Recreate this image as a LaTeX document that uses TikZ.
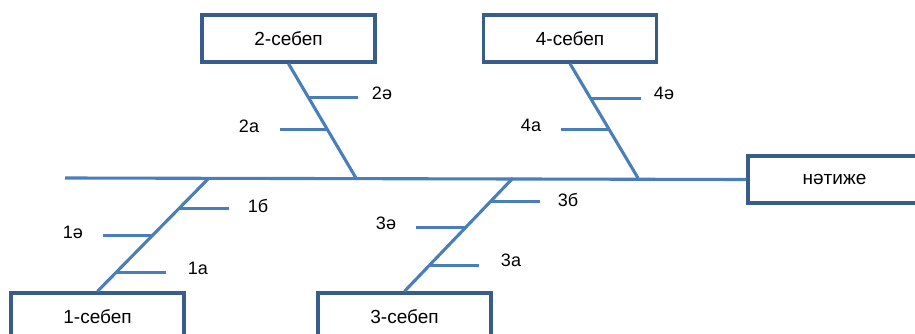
\documentclass[tikz,border=0pt]{standalone}
\usepackage{fontspec}
\setmainfont{Liberation Sans}
\definecolor{boxblue}{RGB}{56,93,138}
\definecolor{lineblue}{RGB}{74,126,187}
\begin{document}
\begin{tikzpicture}[x=1pt,y=-1pt,
    cause/.style={draw=boxblue,line width=3.4pt,fill=white,minimum width=173pt,minimum height=47pt,font=\fontsize{19}{22}\selectfont},
    bone/.style={draw=lineblue,line width=3.1pt},
    lbl/.style={font=\fontsize{18}{21}\selectfont}]
    \useasboundingbox (0,0) rectangle (915,334);

    \node[cause] (c2) at (288.5,38.5) {2-себеп};
    \node[cause] (c4) at (570,38.5) {4-себеп};
    \node[cause] (c1) at (97.5,316.5) {1-себеп};
    \node[cause] (c3) at (404.5,316.5) {3-себеп};
    \node[cause] (res) at (834.5,179.5) {нәтиже};

    \coordinate (tail) at (65,178);
    \coordinate (j1) at (209,178);
    \coordinate (j2) at (356,178);
    \coordinate (j3) at (513,178);
    \coordinate (j4) at (638,178);
    \draw[bone] (tail) -- (res.west);

    \draw[bone] (c1.north) -- (j1) coordinate[pos=0.165] (p1a) coordinate[pos=0.496] (p1e) coordinate[pos=0.73] (p1b);
    \draw[bone] (p1a) -- ++(50,0) coordinate (e1a);
    \draw[bone] (p1e) -- ++(-50,0) coordinate (e1e);
    \draw[bone] (p1b) -- ++(50,0) coordinate (e1b);
    \node[lbl] (l1a) at (198,268) {1а};
    \node[lbl] (l1e) at (73,232) {1ә};
    \node[lbl] (l1b) at (258,206) {1б};

    \draw[bone] (c3.north) -- (j3) coordinate[pos=0.226] (p3a) coordinate[pos=0.565] (p3e) coordinate[pos=0.791] (p3b);
    \draw[bone] (p3a) -- ++(50,0) coordinate (e3a);
    \draw[bone] (p3e) -- ++(-50,0) coordinate (e3e);
    \draw[bone] (p3b) -- ++(50,0) coordinate (e3b);
    \node[lbl] (l3a) at (511,260) {3а};
    \node[lbl] (l3e) at (386,223) {3ә};
    \node[lbl] (l3b) at (568,200) {3б};

    \draw[bone] (c2.south) -- (j2) coordinate[pos=0.293] (p2e) coordinate[pos=0.578] (p2a);
    \draw[bone] (p2e) -- ++(50,0) coordinate (e2e);
    \draw[bone] (p2a) -- ++(-48,0) coordinate (e2a);
    \node[lbl] (l2e) at (382,93) {2ә};
    \node[lbl] (l2a) at (249,126) {2а};

    \draw[bone] (c4.south) -- (j4) coordinate[pos=0.302] (p4e) coordinate[pos=0.578] (p4a);
    \draw[bone] (p4e) -- ++(50,0) coordinate (e4e);
    \draw[bone] (p4a) -- ++(-48,0) coordinate (e4a);
    \node[lbl] (l4e) at (664,93) {4ә};
    \node[lbl] (l4a) at (531,125) {4а};
  \end{tikzpicture}
\end{document}
